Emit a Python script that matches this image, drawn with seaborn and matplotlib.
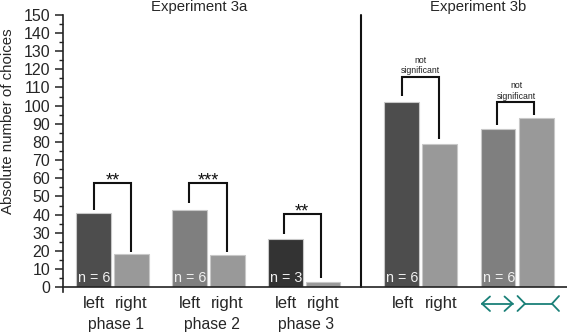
import matplotlib
matplotlib.use("Agg")
import matplotlib.pyplot as plt
import seaborn as sns
import pandas as pd

bar_keys = ["p1 left", "p1 right", "p2 left", "p2 right", "p3 left", "p3 right",
            "b left", "b right", "b in", "b out"]
positions = [93.5, 131.5, 189.5, 227.5, 285.5, 323, 401.5, 439.5, 498, 536.5]
values = [41, 18.3, 42.5, 17.8, 26.7, 3, 102, 79, 87.3, 93]
colors = ["#4d4d4d", "#999999", "#7f7f7f", "#999999", "#333333", "#999999",
          "#4d4d4d", "#999999", "#7f7f7f", "#999999"]
y_ticks = list(range(0, 151, 10))
n_labels = ["n = 6", "n = 6", "n = 3", "n = 6", "n = 6"]
n_bars = [0, 2, 4, 6, 8]
phase_labels = ["phase 1", "phase 2", "phase 3"]
phase_pos = [115.5, 211.5, 306]
# bracket: left x, right x, top value, left-leg end, right-leg end
bracket_left = [94, 189, 283.7, 402, 497]
bracket_right = [131, 226.7, 320.7, 439, 534]
bracket_top = [57.6, 57.6, 40.5, 116, 102.1]
bracket_lo = [42.5, 46.4, 29.3, 105.3, 89.3]
bracket_hi = [19.6, 19.6, 5, 81.6, 94.6]
stars = ["**", "***", "**"]
star_x = [112.7, 208, 302]

W, H = 567, 334
sns.set_style("ticks")
plt.rcParams["font.family"] = ["Liberation Sans", "DejaVu Sans"]
fig = plt.figure(figsize=(W / 100, H / 100), dpi=100)
ax = fig.add_axes([62.5 / W, 1 - 287.3 / H, (W - 62.5) / W, 272.5 / H])

df = pd.DataFrame({"x": positions, "y": values, "k": bar_keys})
sns.barplot(data=df, x="x", y="y", hue="k", hue_order=bar_keys, palette=colors,
            native_scale=True, dodge=False, legend=False, width=0.93, saturation=1,
            edgecolor="#c8c8c8", linewidth=0.8, ax=ax)
ax.set_xlim(62.5, W)
ax.set_ylim(0, 150)
ax.set_xlabel("")
ax.set_ylabel("")
ax.set_yticks(y_ticks)
ax.set_yticks([v + 5 for v in y_ticks[:-1]], minor=True)
ax.tick_params(axis="y", which="major", labelsize=11.5, length=5.8, width=1.1, pad=3, color="#222222")
ax.tick_params(axis="y", which="minor", length=2.8, width=1, color="#222222")
ax.set_xticks([])
ax.patch.set_alpha(0)
for s in ["top", "right"]:
    ax.spines[s].set_visible(False)
for s in ["left", "bottom"]:
    ax.spines[s].set_linewidth(1.2)
    ax.spines[s].set_color("#222222")
ax.spines["left"].set_bounds(-2.5, 150)

# divider between the experiments
ax.plot([360.7, 360.7], [0, 150], color="#111111", lw=1.5, clip_on=False)

# n labels
for i, t in zip(n_bars, n_labels):
    ax.text(positions[i] + 1, 1.2, t, color="#f0f0f0", fontsize=10.3, ha="center", va="bottom")

for x0, x1, top, lo, hi in zip(bracket_left, bracket_right, bracket_top, bracket_lo, bracket_hi):
    ax.plot([x0, x0, x1, x1], [lo, top, top, hi], color="#111111", lw=1.5,
            solid_joinstyle="miter", solid_capstyle="butt")

for x, top, t in zip(star_x, bracket_top, stars):
    ax.text(x, top - 3.5, t, fontsize=13, ha="center", va="bottom", color="#111111")

ax.text(420, bracket_top[3] + 0.6, "not\nsignificant", fontsize=6.3, ha="center", va="bottom", linespacing=1.2, color="#222222")
ax.text(516, bracket_top[4] + 0.6, "not\nsignificant", fontsize=6.3, ha="center", va="bottom", linespacing=1.2, color="#222222")

def px(x, y):
    return x / W, 1 - y / H

for x, t in [(93.5, "left"), (131.5, "right"), (190, "left"), (227.5, "right"),
             (286, "left"), (323, "right"), (403, "left"), (441, "right")]:
    fig.text(*px(x, 303.5), t, fontsize=12, ha="center", va="center")
for x, t in zip(phase_pos, phase_labels):
    fig.text(*px(x, 325), t, fontsize=11.3, ha="center", va="center")
fig.text(*px(199, 7.5), "Experiment 3a", fontsize=10.7, ha="center", va="center")
fig.text(*px(478, 7.5), "Experiment 3b", fontsize=10.7, ha="center", va="center")
fig.text(*px(8, 121), "Absolute number of choices", fontsize=10.8, rotation=90, ha="center", va="center")

# teal arrow symbols
teal = "#1a8078"
def seg(x0, y0, x1, y1):
    fig.add_artist(plt.Line2D([x0 / W, x1 / W], [1 - y0 / H, 1 - y1 / H], color=teal, lw=1.3))
seg(482, 303.7, 512.5, 303.7)
seg(482, 303.7, 490, 296.5); seg(482, 303.7, 490, 311)
seg(512.5, 303.7, 504.5, 296.5); seg(512.5, 303.7, 504.5, 311)
seg(525, 303.7, 552, 303.7)
seg(525, 303.7, 517.5, 296); seg(525, 303.7, 517.5, 311)
seg(552, 303.7, 559, 296); seg(552, 303.7, 559, 311)

fig.savefig("out.png", dpi=100)
